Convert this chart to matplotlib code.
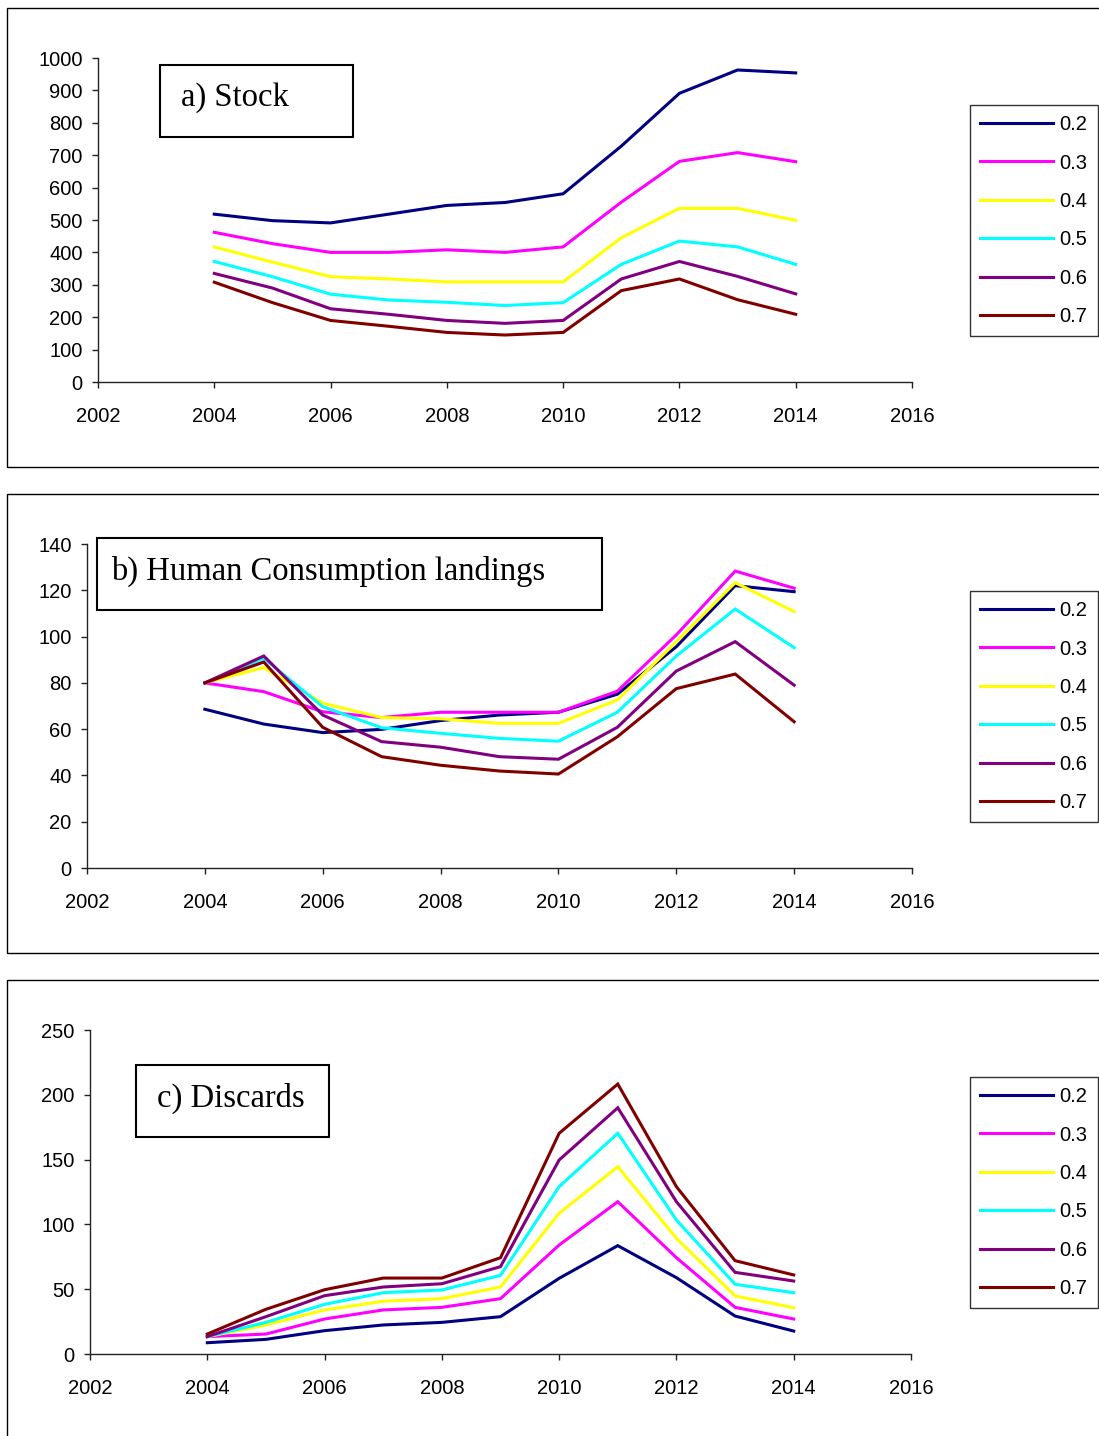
import matplotlib
matplotlib.use("Agg")
import matplotlib.pyplot as plt
from matplotlib.patches import Rectangle

W, H = 1099, 1436
DPI = 100

years = list(range(2004, 2015))
series_labels = ["0.2", "0.3", "0.4", "0.5", "0.6", "0.7"]
colors = ["#000080", "#FF00FF", "#FFFF00", "#00FFFF", "#800080", "#800000"]

# a) Stock
stock_02 = [518, 498, 491, 518, 545, 554, 581, 728, 891, 963, 954]
stock_03 = [462, 427, 400, 400, 408, 400, 417, 555, 681, 708, 680]
stock_04 = [417, 370, 325, 318, 309, 309, 309, 445, 536, 536, 499]
stock_05 = [372, 325, 271, 253, 246, 236, 245, 363, 435, 417, 363]
stock_06 = [335, 290, 226, 209, 190, 181, 190, 318, 372, 326, 272]
stock_07 = [308, 245, 190, 172, 153, 145, 153, 282, 318, 254, 209]

# b) Human Consumption landings
hc_02 = [68.6, 62.2, 58.5, 59.9, 63.7, 66.1, 67.3, 75.1, 95.6, 122.0, 119.4]
hc_03 = [80.0, 76.2, 67.5, 65.0, 67.3, 67.3, 67.3, 76.4, 100.7, 128.3, 120.9]
hc_04 = [80.0, 86.6, 71.2, 65.0, 64.5, 62.5, 62.5, 72.6, 97.8, 123.3, 110.8]
hc_05 = [80.0, 90.6, 69.7, 60.6, 58.2, 56.0, 54.8, 67.3, 91.6, 111.9, 95.2]
hc_06 = [80.0, 91.6, 66.1, 54.6, 52.2, 48.1, 47.0, 60.8, 85.1, 97.8, 79.0]
hc_07 = [80.0, 89.0, 60.8, 48.1, 44.4, 41.9, 40.6, 56.7, 77.5, 83.8, 63.2]

# c) Discards
disc_02 = [8.7, 11.3, 18.0, 22.4, 24.4, 28.8, 58.4, 83.6, 58.9, 29.3, 17.7]
disc_03 = [13.4, 15.4, 27.0, 34.0, 36.0, 42.7, 84.1, 117.5, 74.3, 36.0, 27.0]
disc_04 = [13.4, 22.4, 34.0, 40.7, 42.7, 51.7, 108.6, 144.5, 89.3, 44.8, 35.7]
disc_05 = [13.4, 24.4, 38.3, 47.3, 49.4, 60.7, 129.1, 170.3, 103.4, 53.8, 47.3]
disc_06 = [13.4, 28.8, 45.0, 51.7, 54.2, 67.4, 149.7, 190.0, 117.5, 63.0, 56.3]
disc_07 = [15.4, 34.5, 49.6, 58.6, 58.6, 74.3, 170.3, 208.3, 129.1, 72.0, 61.0]

x_ticks = [2002, 2004, 2006, 2008, 2010, 2012, 2014, 2016]
stock_ticks = list(range(0, 1001, 100))
hc_ticks = list(range(0, 141, 20))
disc_ticks = list(range(0, 251, 50))

panels = [
    dict(title="a) Stock", series=[stock_02, stock_03, stock_04, stock_05, stock_06, stock_07],
         yticks=stock_ticks, ax_px=(98, 58, 912, 382), frame_px=(7, 8, 1110, 467),
         title_px=(160, 65, 353, 137), title_x=181, legend_px=(970, 105, 1097, 335)),
    dict(title="b) Human Consumption landings",
         series=[hc_02, hc_03, hc_04, hc_05, hc_06, hc_07],
         yticks=hc_ticks, ax_px=(87, 544, 912, 868), frame_px=(7, 494, 1110, 953),
         title_px=(97, 538, 602, 610), title_x=111, legend_px=(970, 591, 1097, 821)),
    dict(title="c) Discards", series=[disc_02, disc_03, disc_04, disc_05, disc_06, disc_07],
         yticks=disc_ticks, ax_px=(90, 1030, 911, 1354), frame_px=(7, 980, 1110, 1450),
         title_px=(136, 1065, 329, 1137), title_x=157, legend_px=(970, 1077, 1097, 1307)),
]

fig = plt.figure(figsize=(W / DPI, H / DPI), dpi=DPI)
fig.patch.set_facecolor("white")


def fx(px):
    return px / W


def fy(py):
    return 1 - py / H


def fig_rect(x0, y0, x1, y1, **kw):
    r = Rectangle((fx(x0), fy(y1)), fx(x1) - fx(x0), fy(y0) - fy(y1),
                  transform=fig.transFigure, fill=False, **kw)
    fig.patches.append(r)
    return r


tick_font = dict(family="Liberation Sans", size=14.5)

for p in panels:
    # outer chart frame
    fig_rect(*p["frame_px"], edgecolor="black", linewidth=1.0, zorder=0)

    x0, y0, x1, y1 = p["ax_px"]
    ax = fig.add_axes([fx(x0), fy(y1), fx(x1) - fx(x0), fy(y0) - fy(y1)])
    ax.set_facecolor("none")
    handles = []
    for vals, lab, c in zip(p["series"], series_labels, colors):
        h, = ax.plot(years, vals, color=c, linewidth=2.2, label=lab, solid_joinstyle="miter")
        handles.append(h)
    ax.set_xlim(2002, 2016)
    ax.set_ylim(p["yticks"][0], p["yticks"][-1])
    ax.set_xticks(x_ticks)
    ax.set_yticks(p["yticks"])
    ax.set_xticklabels([str(t) for t in x_ticks], fontdict=tick_font)
    ax.set_yticklabels([str(t) for t in p["yticks"]], fontdict=tick_font)
    for s in ("top", "right"):
        ax.spines[s].set_visible(False)
    for s in ("left", "bottom"):
        ax.spines[s].set_color("#222222")
        ax.spines[s].set_linewidth(1.0)
    ax.tick_params(axis="both", direction="out", length=4, width=1.0, color="#222222")
    ax.tick_params(axis="x", pad=14)
    ax.tick_params(axis="y", pad=7)

    # panel title box
    tx0, ty0, tx1, ty1 = p["title_px"]
    fig_rect(tx0, ty0, tx1, ty1, edgecolor="black", linewidth=1.5, zorder=3)
    fig.text(fx(p["title_x"]), fy((ty0 + ty1) / 2 - 3), p["title"], family="Liberation Serif",
             fontsize=23.5, ha="left", va="center", zorder=4)

    # legend box
    lx0, ly0, lx1, ly1 = p["legend_px"]
    leg = ax.legend(handles=handles, loc="upper left",
                    bbox_to_anchor=(fx(lx0), fy(ly0)), bbox_transform=fig.transFigure,
                    borderaxespad=0, frameon=True, fancybox=False, edgecolor="black",
                    prop=dict(family="Liberation Sans", size=14.5),
                    handlelength=3.6, handletextpad=0.35, labelspacing=0.965,
                    borderpad=0.5)
    leg.get_frame().set_linewidth(1.0)
    for ln in leg.get_lines():
        ln.set_linewidth(2.2)

fig.savefig("out.png", dpi=DPI)
